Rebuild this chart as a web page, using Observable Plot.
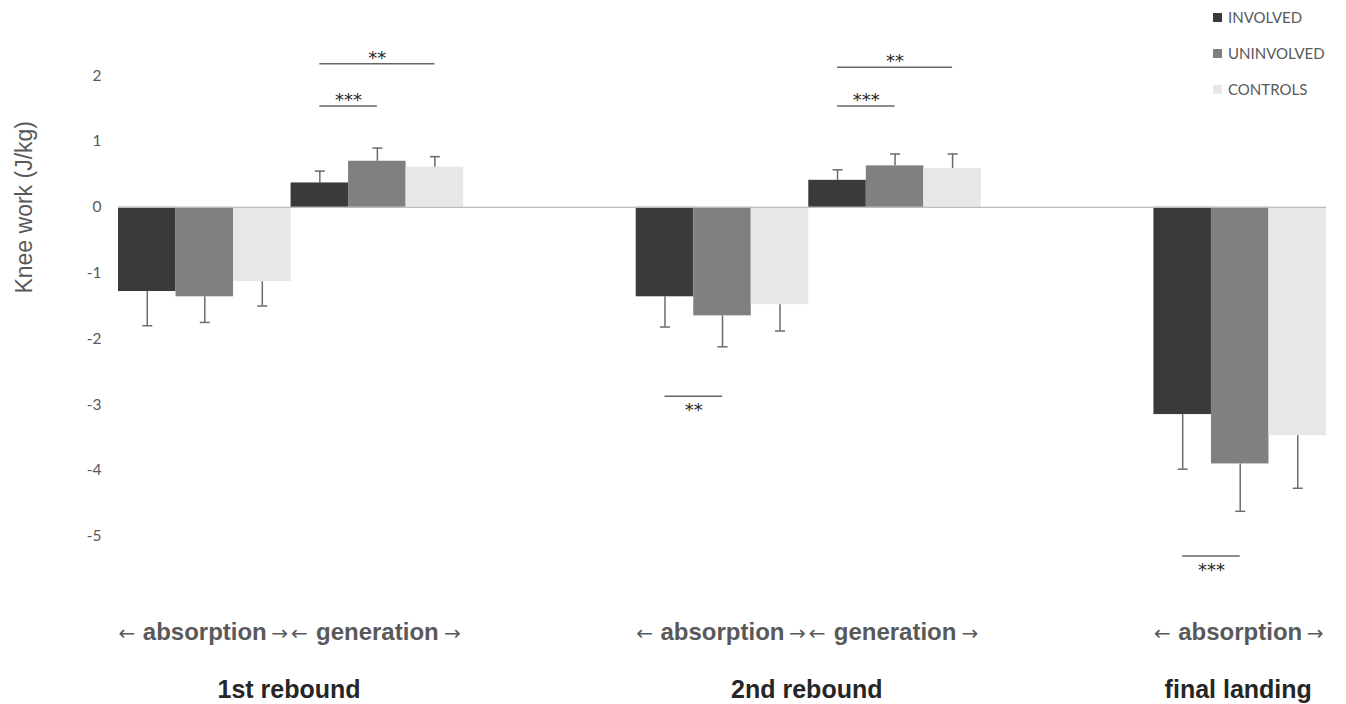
<!DOCTYPE html>
<html>
<head>
<meta charset="utf-8">
<script src="https://cdn.jsdelivr.net/npm/d3@7"></script>
<script src="https://cdn.jsdelivr.net/npm/@observablehq/plot@0.6"></script>
<style>
  html, body { margin: 0; padding: 0; background: #fff; }
  #wrap { position: relative; width: 1346px; height: 704px; }
  #legend { position: absolute; left: 1213px; top: -1px; font-family: Lato, "Open Sans", sans-serif; font-size: 15px; color: #595959; }
  #legend .row { display: flex; align-items: center; height: 36px; }
  #legend .sw { width: 9px; height: 9px; margin-right: 6px; }
</style>
</head>
<body>
<div id="wrap"><div id="legend"></div></div>
<script>
// ---- data ----
const groups = ["INVOLVED", "UNINVOLVED", "CONTROLS"];
const groupColors = ["#3a3a3a", "#808083", "#e6e7e8"];
const events = ["1st rebound", "1st rebound", "2nd rebound", "2nd rebound", "final landing"];
const phases = ["absorption", "generation", "absorption", "generation", "absorption"];
const involvedMean   = [-1.28, 0.37, -1.36, 0.41, -3.15];
const involvedSD     = [0.52, 0.18, 0.46, 0.16, 0.83];
const uninvolvedMean = [-1.36, 0.70, -1.65, 0.63, -3.90];
const uninvolvedSD   = [0.39, 0.20, 0.47, 0.18, 0.72];
const controlsMean   = [-1.13, 0.61, -1.48, 0.59, -3.47];
const controlsSD     = [0.37, 0.16, 0.40, 0.22, 0.80];
const yTicks = [-5, -4, -3, -2, -1, 0, 1, 2];
const yLabel = "Knee work (J/kg)";
// category order along x, with empty gap slots
const slotOrder = ["1st rebound|absorption", "1st rebound|generation", "gap1",
                   "2nd rebound|absorption", "2nd rebound|generation", "gap2",
                   "final landing|absorption"];
// significance annotations
const sigEvent = ["1st rebound", "1st rebound", "2nd rebound", "2nd rebound", "2nd rebound", "final landing"];
const sigPhase = ["generation", "generation", "generation", "generation", "absorption", "absorption"];
const sigFrom  = ["INVOLVED", "INVOLVED", "INVOLVED", "INVOLVED", "INVOLVED", "INVOLVED"];
const sigTo    = ["CONTROLS", "UNINVOLVED", "CONTROLS", "UNINVOLVED", "UNINVOLVED", "UNINVOLVED"];
const sigLevel = [2.18, 1.54, 2.13, 1.54, -2.87, -5.30];
const sigLabel = ["**", "***", "**", "***", "**", "***"];

// ---- build tables ----
const meansByGroup = [involvedMean, uninvolvedMean, controlsMean];
const sdByGroup = [involvedSD, uninvolvedSD, controlsSD];
const nG = groups.length;
const slotOf = (e, p) => slotOrder.indexOf(e + "|" + p);
const posOf = (e, p, g) => slotOf(e, p) * nG + groups.indexOf(g);

const bars = [];
events.forEach((e, i) => {
  groups.forEach((g, j) => {
    const m = meansByGroup[j][i], sd = sdByGroup[j][i];
    const p = posOf(e, phases[i], g);
    bars.push({event: e, phase: phases[i], group: g, mean: m, sd,
      x1: p, x2: p + 1, xc: p + 0.5, end: m + Math.sign(m) * sd});
  });
});

const phaseRows = events.map((e, i) => {
  const s = slotOf(e, phases[i]);
  return {event: e, phase: phases[i], start: s * nG, end: (s + 1) * nG, center: s * nG + nG / 2};
});
const eventRows = Array.from(d3.group(phaseRows, d => d.event), ([event, rows]) =>
  ({event, center: d3.mean(rows, r => r.center)}));

const sigs = sigEvent.map((e, i) => {
  const a = posOf(e, sigPhase[i], sigFrom[i]) + 0.5;
  const b = posOf(e, sigPhase[i], sigTo[i]) + 0.5;
  return {x1: a, x2: b, mid: (a + b) / 2, level: sigLevel[i], label: sigLabel[i]};
});
const sigAbove = sigs.filter(d => d.level > 0);
const sigBelow = sigs.filter(d => d.level < 0);

const capSymbol = {
  draw(context, size) {
    const r = Math.sqrt(size / Math.PI);
    context.moveTo(-r, 0);
    context.lineTo(r, 0);
  }
};

const errColor = "#6b6b6b";
const textGrey = "#595959";

const chart = Plot.plot({
  width: 1346,
  height: 704,
  marginLeft: 118,
  marginRight: 20,
  marginTop: 9.4,
  marginBottom: 102.4,
  x: {domain: [0, slotOrder.length * nG], axis: null},
  y: {domain: [-6, 3]},
  color: {domain: groups, range: groupColors},
  style: {fontFamily: "Lato, 'Open Sans', sans-serif", background: "#fff", overflow: "visible"},
  marks: [
    Plot.rect(bars, {x1: "x1", x2: "x2", y1: 0, y2: "mean", fill: "group"}),
    Plot.ruleY([0], {stroke: "#bdbdbd", strokeWidth: 1.2}),
    Plot.ruleX(bars, {x: "xc", y1: "mean", y2: "end", stroke: errColor, strokeWidth: 1.5}),
    Plot.dot(bars, {x: "xc", y: "end", symbol: capSymbol, r: 5, stroke: errColor, strokeWidth: 1.5}),
    Plot.axisY(yTicks, {tickSize: 0, tickPadding: 17, fontSize: 15.5, color: textGrey, label: null,
      tickFormat: d => String(d)}),
    Plot.text([yLabel], {frameAnchor: "left", y: [0], dx: -94, rotate: -90, textAnchor: "middle",
      fontSize: 23, fill: textGrey, fontFamily: "'Liberation Sans', Arial, sans-serif"}),
    // significance lines and stars
    Plot.ruleY(sigs, {y: "level", x1: "x1", x2: "x2", stroke: "#666", strokeWidth: 1.5}),
    Plot.text(sigAbove, {x: "mid", y: "level", text: "label", lineAnchor: "bottom", dy: 0,
      fontSize: 18, fill: "#262626", fontFamily: "'DejaVu Sans', sans-serif"}),
    Plot.text(sigBelow, {x: "mid", y: "level", text: "label", lineAnchor: "bottom", dy: 20,
      fontSize: 18, fill: "#262626", fontFamily: "'DejaVu Sans', sans-serif"}),
    // phase labels with arrows
    Plot.text(phaseRows, {x: "center", frameAnchor: "bottom", text: "phase", dy: 30,
      lineAnchor: "middle", fontSize: 24, fontWeight: "bold", fill: textGrey,
      fontFamily: "'Liberation Sans', Arial, sans-serif"}),
    Plot.text(phaseRows, {x: "start", frameAnchor: "bottom", text: () => "←", dy: 31,
      lineAnchor: "middle", textAnchor: "start", fontSize: 20, fill: textGrey,
      fontFamily: "'DejaVu Sans', sans-serif"}),
    Plot.text(phaseRows, {x: "end", frameAnchor: "bottom", text: () => "→", dy: 31, dx: -3,
      lineAnchor: "middle", textAnchor: "end", fontSize: 20, fill: textGrey,
      fontFamily: "'DejaVu Sans', sans-serif"}),
    // event labels
    Plot.text(eventRows, {x: "center", frameAnchor: "bottom", text: "event", dy: 88, dx: -2,
      lineAnchor: "middle", fontSize: 25, fontWeight: "bold", fill: "#262626",
      fontFamily: "'Liberation Sans', Arial, sans-serif"})
  ]
});

const wrap = document.getElementById("wrap");
wrap.insertBefore(chart, wrap.firstChild);

const legend = document.getElementById("legend");
groups.forEach((g, i) => {
  const row = document.createElement("div");
  row.className = "row";
  const sw = document.createElement("span");
  sw.className = "sw";
  sw.style.background = groupColors[i];
  const t = document.createElement("span");
  t.textContent = g;
  row.appendChild(sw);
  row.appendChild(t);
  legend.appendChild(row);
});
</script>
</body>
</html>
